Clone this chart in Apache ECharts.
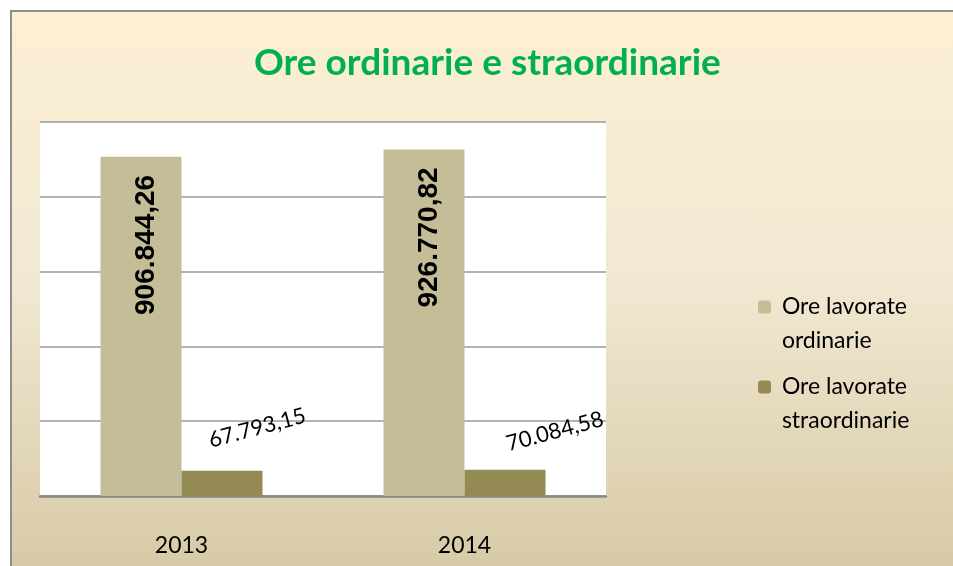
<!DOCTYPE html>
<html>
<head>
<meta charset="utf-8">
<script src="https://cdn.jsdelivr.net/npm/echarts@6/dist/echarts.min.js"></script>
<style>
  html, body { margin: 0; padding: 0; background: #fff; overflow: hidden; }
  #frame {
    position: absolute; left: 10px; top: 10px; width: 1000px; height: 600px;
    border-left: 2px solid #8e8e8e; border-top: 2px solid #8e8e8e;
    background: linear-gradient(to bottom, #fcefd4 0%, #f2e8d2 45%, #d3c5a0 100%);
  }
  #chart { position: absolute; left: 0; top: 0; width: 953px; height: 566px; }
</style>
</head>
<body>
<div id="frame"></div>
<div id="chart"></div>
<script>
// anni
var years = ["2013", "2014"];
// ore lavorate
var oreOrdinarie = [906844.26, 926770.82];
var oreStraordinarie = [67793.15, 70084.58];
var seriesNames = ["Ore lavorate ordinarie", "Ore lavorate straordinarie"];
var legendLines = {
  "Ore lavorate ordinarie": ["Ore lavorate", "ordinarie"],
  "Ore lavorate straordinarie": ["Ore lavorate", "straordinarie"],
};
// label nudges for the tilted labels (in the label's rotated frame)
var extraLabelOffset = [[45, -32], [58, -24]];

function fmt(v) {
  var parts = v.toFixed(2).split(".");
  var intPart = parts[0].replace(/\B(?=(\d{3})+(?!\d))/g, ".");
  return intPart + "," + parts[1];
}

var myChart = echarts.init(document.getElementById("chart"), null, { renderer: "canvas" });

var legendText = {
  fontFamily: "Lato",
  fontSize: 23,
  color: "#000",
  lineHeight: 34,
};
// blank first line so the icon sits next to the first text line
function legendFormatter(name) {
  var l = legendLines[name];
  return "\n " + l[0] + "\n " + l[1];
}

myChart.setOption({
  backgroundColor: "transparent",
  animation: false,
  title: {
    text: "Ore ordinarie e straordinarie",
    left: 249,
    top: 40,
    textStyle: {
      fontFamily: "Lato",
      fontSize: 37,
      fontWeight: "bold",
      color: "#00b050",
    },
  },
  legend: [
    {
      data: [seriesNames[0]],
      left: 758,
      top: 256,
      padding: 0,
      itemWidth: 13,
      itemHeight: 13,
      formatter: legendFormatter,
      textStyle: legendText,
    },
    {
      data: [seriesNames[1]],
      left: 758,
      top: 336,
      padding: 0,
      itemWidth: 13,
      itemHeight: 13,
      formatter: legendFormatter,
      textStyle: legendText,
    },
  ],
  grid: {
    left: 40,
    right: 347,
    top: 122,
    bottom: 70,
    show: true,
    backgroundColor: "#fff",
    borderWidth: 0,
  },
  xAxis: {
    type: "category",
    data: years,
    axisLine: { lineStyle: { color: "#888", width: 2.5 } },
    axisTick: { show: false },
    axisLabel: {
      margin: 38,
      fontFamily: "Lato",
      fontSize: 23,
      color: "#000",
    },
  },
  yAxis: {
    type: "value",
    min: 0,
    max: 1000000,
    interval: 200000,
    axisLine: { show: false },
    axisTick: { show: false },
    axisLabel: { show: false },
    splitLine: { lineStyle: { color: "#9a9a9a", width: 1.5 } },
  },
  series: [
    {
      name: seriesNames[0],
      type: "bar",
      data: oreOrdinarie,
      barWidth: 81,
      barGap: "0%",
      itemStyle: { color: "#c4bd97" },
      label: {
        show: true,
        position: "insideTop",
        distance: 18,
        rotate: 90,
        align: "right",
        verticalAlign: "middle",
        offset: [0, 5],
        fontFamily: "Liberation Sans",
        fontWeight: "bold",
        fontSize: 28,
        color: "#000",
        formatter: function (p) { return fmt(p.value); },
      },
    },
    {
      name: seriesNames[1],
      type: "bar",
      data: oreStraordinarie.map(function (v, i) {
        return { value: v, label: { offset: extraLabelOffset[i] } };
      }),
      barWidth: 81,
      itemStyle: { color: "#948a54" },
      label: {
        show: true,
        position: "top",
        distance: 0,
        rotate: 15,
        align: "center",
        verticalAlign: "middle",
        fontFamily: "Lato",
        fontSize: 22,
        color: "#000",
        formatter: function (p) { return fmt(p.value); },
      },
    },
  ],
});
</script>
</body>
</html>
